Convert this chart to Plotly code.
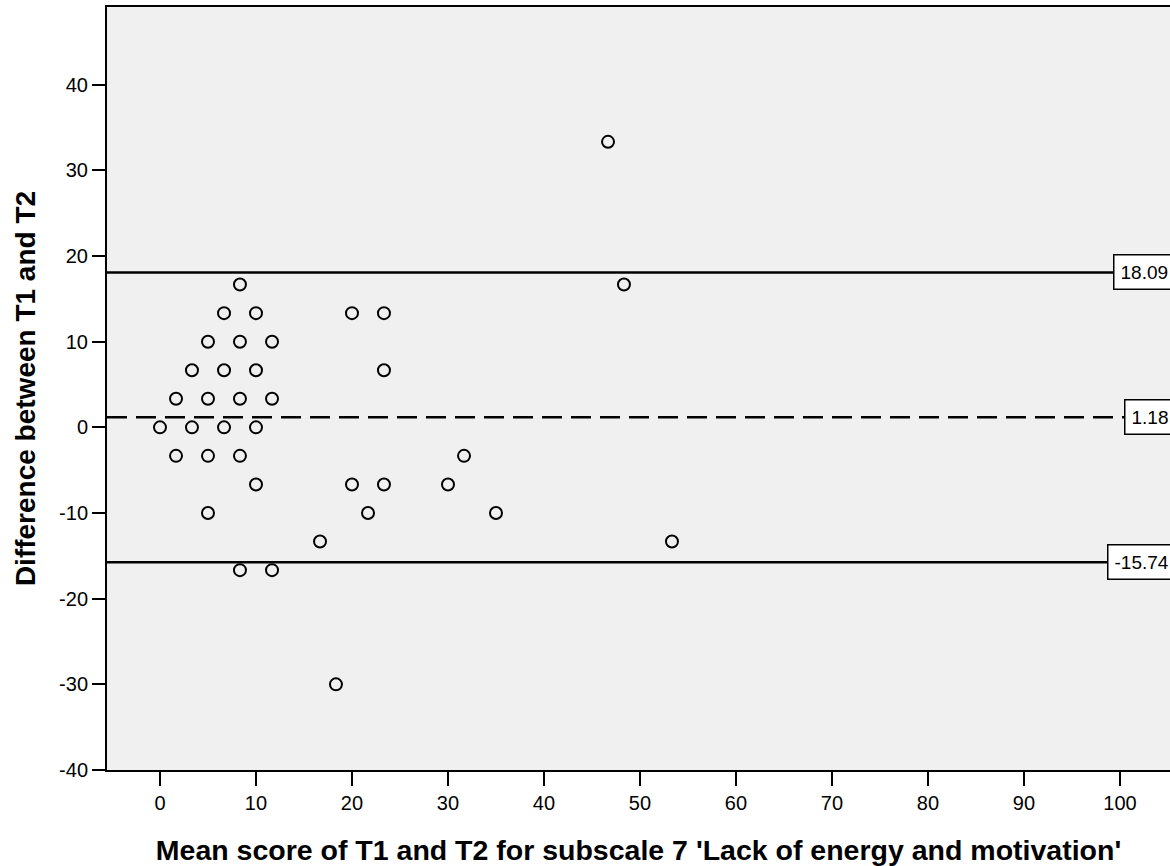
import plotly.graph_objects as go

# Bland-Altman data: mean of T1/T2 (x) vs difference T1-T2 (y)
mean_scores = [0, 1.67, 1.67, 3.33, 3.33, 5, 5, 5, 5, 6.67, 6.67, 6.67,
               8.33, 8.33, 8.33, 8.33, 8.33, 10, 10, 10, 10, 11.67, 11.67, 11.67,
               16.67, 18.33, 20, 20, 21.67, 23.33, 23.33, 23.33,
               30, 31.67, 35, 46.67, 48.33, 53.33]
differences = [0, -3.33, 3.33, 6.67, 0, 10, 3.33, -3.33, -10, 13.33, 6.67, 0,
               16.67, 10, 3.33, -3.33, -16.67, 13.33, 6.67, 0, -6.67, 10, 3.33, -16.67,
               -13.33, -30, 13.33, -6.67, -10, 13.33, 6.67, -6.67,
               -6.67, -3.33, -10, 33.33, 16.67, -13.33]

ref_values = [18.09, 1.18, -15.74]
ref_labels = ["18.09", "1.18", "-15.74"]
ref_dash = ["solid", "20px,9px", "solid"]

x_ticks = [0, 10, 20, 30, 40, 50, 60, 70, 80, 90, 100]
y_ticks = [-40, -30, -20, -10, 0, 10, 20, 30, 40]

FONT = "Liberation Sans, Arial, sans-serif"

fig = go.Figure()

fig.add_trace(go.Scatter(
    x=mean_scores, y=differences, mode="markers",
    marker=dict(symbol="circle-open", size=12, color="black",
                line=dict(color="black", width=2)),
    showlegend=False, hoverinfo="x+y",
))

for v, lab, d in zip(ref_values, ref_labels, ref_dash):
    fig.add_shape(type="line", xref="paper", x0=0, x1=1, yref="y", y0=v, y1=v,
                  line=dict(color="black", width=2.5, dash=d), layer="above")
    fig.add_annotation(xref="paper", x=1, yref="y", y=v, text=lab,
                       showarrow=False, xanchor="right", yanchor="middle",
                       xshift=6, bgcolor="white", bordercolor="black",
                       borderwidth=1.5, borderpad=6,
                       font=dict(family=FONT, size=19, color="black"))

fig.update_layout(
    width=1170, height=866,
    margin=dict(l=107, r=0, t=7, b=96),
    paper_bgcolor="white", plot_bgcolor="#f0f0f0",
    font=dict(family=FONT, color="black"),
    showlegend=False,
)

fig.update_xaxes(
    range=[-5.52, 105.21], tickvals=x_ticks, ticktext=[str(t) for t in x_ticks],
    ticks="outside", ticklen=14, tickwidth=2, tickcolor="black",
    showline=True, linecolor="black", linewidth=2, mirror=True,
    showgrid=False, zeroline=False, automargin=False,
    tickfont=dict(family=FONT, size=20, color="black"),
    title=dict(text="<b>Mean score of T1 and T2 for subscale 7 'Lack of energy and motivation'</b>",
               font=dict(family=FONT, size=28.5, color="black"), standoff=30),
)

fig.update_yaxes(
    range=[-40, 49.07], tickvals=y_ticks, ticktext=[str(t) for t in y_ticks],
    ticks="outside", ticklen=13, tickwidth=2, tickcolor="black",
    showline=True, linecolor="black", linewidth=2,
    showgrid=False, zeroline=False, automargin=False,
    tickfont=dict(family=FONT, size=20, color="black"),
    title=dict(text="<b>Difference between T1 and T2</b>",
               font=dict(family=FONT, size=28, color="black")),
)

fig.write_html("out.html", config={"displayModeBar": False},
               post_script="document.body.style.margin='0';")
